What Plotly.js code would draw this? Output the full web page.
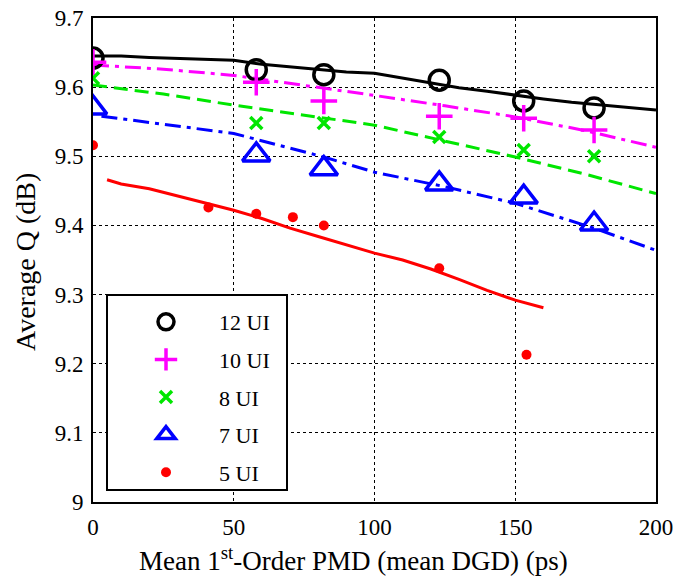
<!DOCTYPE html>
<html>
<head>
<meta charset="utf-8">
<script src="https://cdn.plot.ly/plotly-3.0.1.min.js"></script>
<style>html,body{margin:0;padding:0;background:#fff;}#chart{width:677px;height:581px;}</style>
</head>
<body>
<div id="chart"></div>
<script>
// Measured points (markers)
const dgd12 = [0, 58, 82, 123, 153, 178];
const q12 = [9.642, 9.625, 9.618, 9.610, 9.580, 9.570];
const dgd10 = [0, 58, 82, 123, 153, 178];
const q10 = [9.636, 9.607, 9.580, 9.558, 9.555, 9.538];
const dgd8 = [0, 58, 82, 123, 153, 178];
const q8 = [9.613, 9.548, 9.548, 9.528, 9.509, 9.500];
const dgd7 = [0, 58, 82, 123, 153, 178];
const q7 = [9.570, 9.502, 9.482, 9.460, 9.441, 9.402];
const dgd5 = [0, 41, 58, 71, 82, 123, 154];
const q5 = [9.516, 9.426, 9.417, 9.412, 9.400, 9.338, 9.213];

// Simulated curves (lines)
const lineX12 = [0, 10, 20, 30, 40, 50, 60, 70, 80, 90, 100, 110, 120, 130, 140, 150, 160, 170, 180, 190, 200];
const lineQ12 = [9.645, 9.645, 9.643, 9.642, 9.641, 9.639, 9.633, 9.629, 9.625, 9.622, 9.620, 9.613, 9.605, 9.599, 9.594, 9.588, 9.583, 9.578, 9.574, 9.570, 9.567];
const lineX10 = [0, 25, 50, 80, 100, 125, 150, 175, 200];
const lineQ10 = [9.632, 9.626, 9.617, 9.600, 9.588, 9.573, 9.557, 9.537, 9.513];
const lineX8 = [0, 25, 50, 82, 100, 125, 150, 175, 200];
const lineQ8 = [9.603, 9.590, 9.574, 9.555, 9.545, 9.522, 9.499, 9.474, 9.446];
const lineX7 = [3, 25, 50, 82, 100, 125, 150, 178, 200];
const lineQ7 = [9.558, 9.546, 9.533, 9.499, 9.477, 9.456, 9.432, 9.396, 9.364];
const lineX5 = [5, 10, 20, 30, 40, 50, 60, 70, 80, 90, 100, 110, 120, 130, 140, 150, 160];
const lineQ5 = [9.466, 9.460, 9.453, 9.443, 9.432, 9.422, 9.410, 9.396, 9.384, 9.372, 9.360, 9.350, 9.337, 9.322, 9.306, 9.292, 9.281];

const names = ['12 UI', '10 UI', '8 UI', '7 UI', '5 UI'];
const colors = ['#000000', '#ff00ff', '#00e600', '#0000ff', '#ff0000'];
const xTitle = 'Mean 1<sup>st</sup>-Order PMD (mean DGD) (ps)';
const yTitle = 'Average Q (dB)';
const pad = '\u00a0\u00a0\u00a0\u00a0\u00a0\u00a0';

const traces = [
  {x: lineX12, y: lineQ12, mode: 'lines', line: {color: colors[0], width: 3}, showlegend: false},
  {x: lineX10, y: lineQ10, mode: 'lines', line: {color: colors[1], width: 3, dash: '16px,6px,4px,6px'}, showlegend: false},
  {x: lineX8, y: lineQ8, mode: 'lines', line: {color: colors[2], width: 3, dash: '14px,7px'}, showlegend: false},
  {x: lineX7, y: lineQ7, mode: 'lines', line: {color: colors[3], width: 3, dash: '16px,6px,4px,6px'}, showlegend: false},
  {x: lineX5, y: lineQ5, mode: 'lines', line: {color: colors[4], width: 3}, showlegend: false},
  {x: dgd12, y: q12, mode: 'markers', name: pad + names[0], legendgroup: 'a',
   marker: {symbol: 'circle-open', size: 20, color: colors[0], line: {width: 3.5}}},
  {x: dgd10, y: q10, mode: 'markers', name: pad + names[1], legendgroup: 'b',
   marker: {symbol: 'cross-thin-open', size: 19, color: colors[1], line: {width: 3.5, color: colors[1]}}},
  {x: dgd8, y: q8, mode: 'markers', name: pad + names[2], legendgroup: 'c',
   marker: {symbol: 'x-thin-open', size: 12, color: colors[2], line: {width: 3.5, color: colors[2]}}},
  {x: dgd7, y: q7, mode: 'markers', name: pad + names[3], legendgroup: 'd',
   marker: {symbol: 'triangle-up-open', size: 24, color: colors[3], line: {width: 3.5}}},
  {x: dgd5, y: q5, mode: 'markers', name: pad + names[4], legendgroup: 'e',
   marker: {symbol: 'circle', size: 10, color: colors[4]}}
];

const fam = 'Liberation Serif, serif';
const font = {family: fam, size: 20, color: '#000'};

const layout = {
  width: 677, height: 581,
  margin: {l: 93, r: 21, t: 18, b: 79},
  paper_bgcolor: '#fff', plot_bgcolor: '#fff',
  font: font,
  showlegend: true,
  shapes: [{
    type: 'rect', xref: 'paper', yref: 'paper', layer: 'above',
    x0: (107 - 93) / 563, x1: (287 - 93) / 563,
    y0: (502 - 490) / 484, y1: (502 - 295) / 484,
    fillcolor: '#fff', line: {color: '#000', width: 2}
  }],
  annotations: [
    {text: xTitle, xref: 'paper', yref: 'paper', x: (353 - 93) / 563, y: (502 - 559) / 484,
     xanchor: 'center', yanchor: 'middle', showarrow: false,
     font: {family: fam, size: 27, color: '#000'}},
    {text: yTitle, xref: 'paper', yref: 'paper', x: (25 - 93) / 563, y: (502 - 262) / 484,
     xanchor: 'center', yanchor: 'middle', showarrow: false, textangle: -90,
     font: {family: fam, size: 28, color: '#000'}}
  ],
  legend: {
    x: (146 - 93) / 563, y: (502 - 301) / 484, xanchor: 'left', yanchor: 'top',
    bgcolor: 'rgba(0,0,0,0)', borderwidth: 0,
    font: {family: fam, size: 22, color: '#000'},
    traceorder: 'grouped', tracegroupgap: 6
  },
  xaxis: {
    range: [0, 200], tickvals: [0, 50, 100, 150, 200],
    showline: true, linecolor: '#000', linewidth: 2, mirror: true,
    showgrid: true, gridcolor: '#000', gridwidth: 1.2, griddash: 'dot',
    zeroline: false, ticks: '', ticklabelstandoff: 3,
    tickfont: {family: fam, size: 23, color: '#000'}
  },
  yaxis: {
    range: [9.0, 9.7], tickvals: [9.0, 9.1, 9.2, 9.3, 9.4, 9.5, 9.6, 9.7],
    ticktext: ['9', '9.1', '9.2', '9.3', '9.4', '9.5', '9.6', '9.7'],
    showline: true, linecolor: '#000', linewidth: 2, mirror: true,
    showgrid: true, gridcolor: '#000', gridwidth: 1.2, griddash: 'dot',
    zeroline: false, ticks: '', ticklabelstandoff: 3,
    tickfont: {family: fam, size: 23, color: '#000'}
  }
};

Plotly.newPlot('chart', traces, layout, {displayModeBar: false});
</script>
</body>
</html>
